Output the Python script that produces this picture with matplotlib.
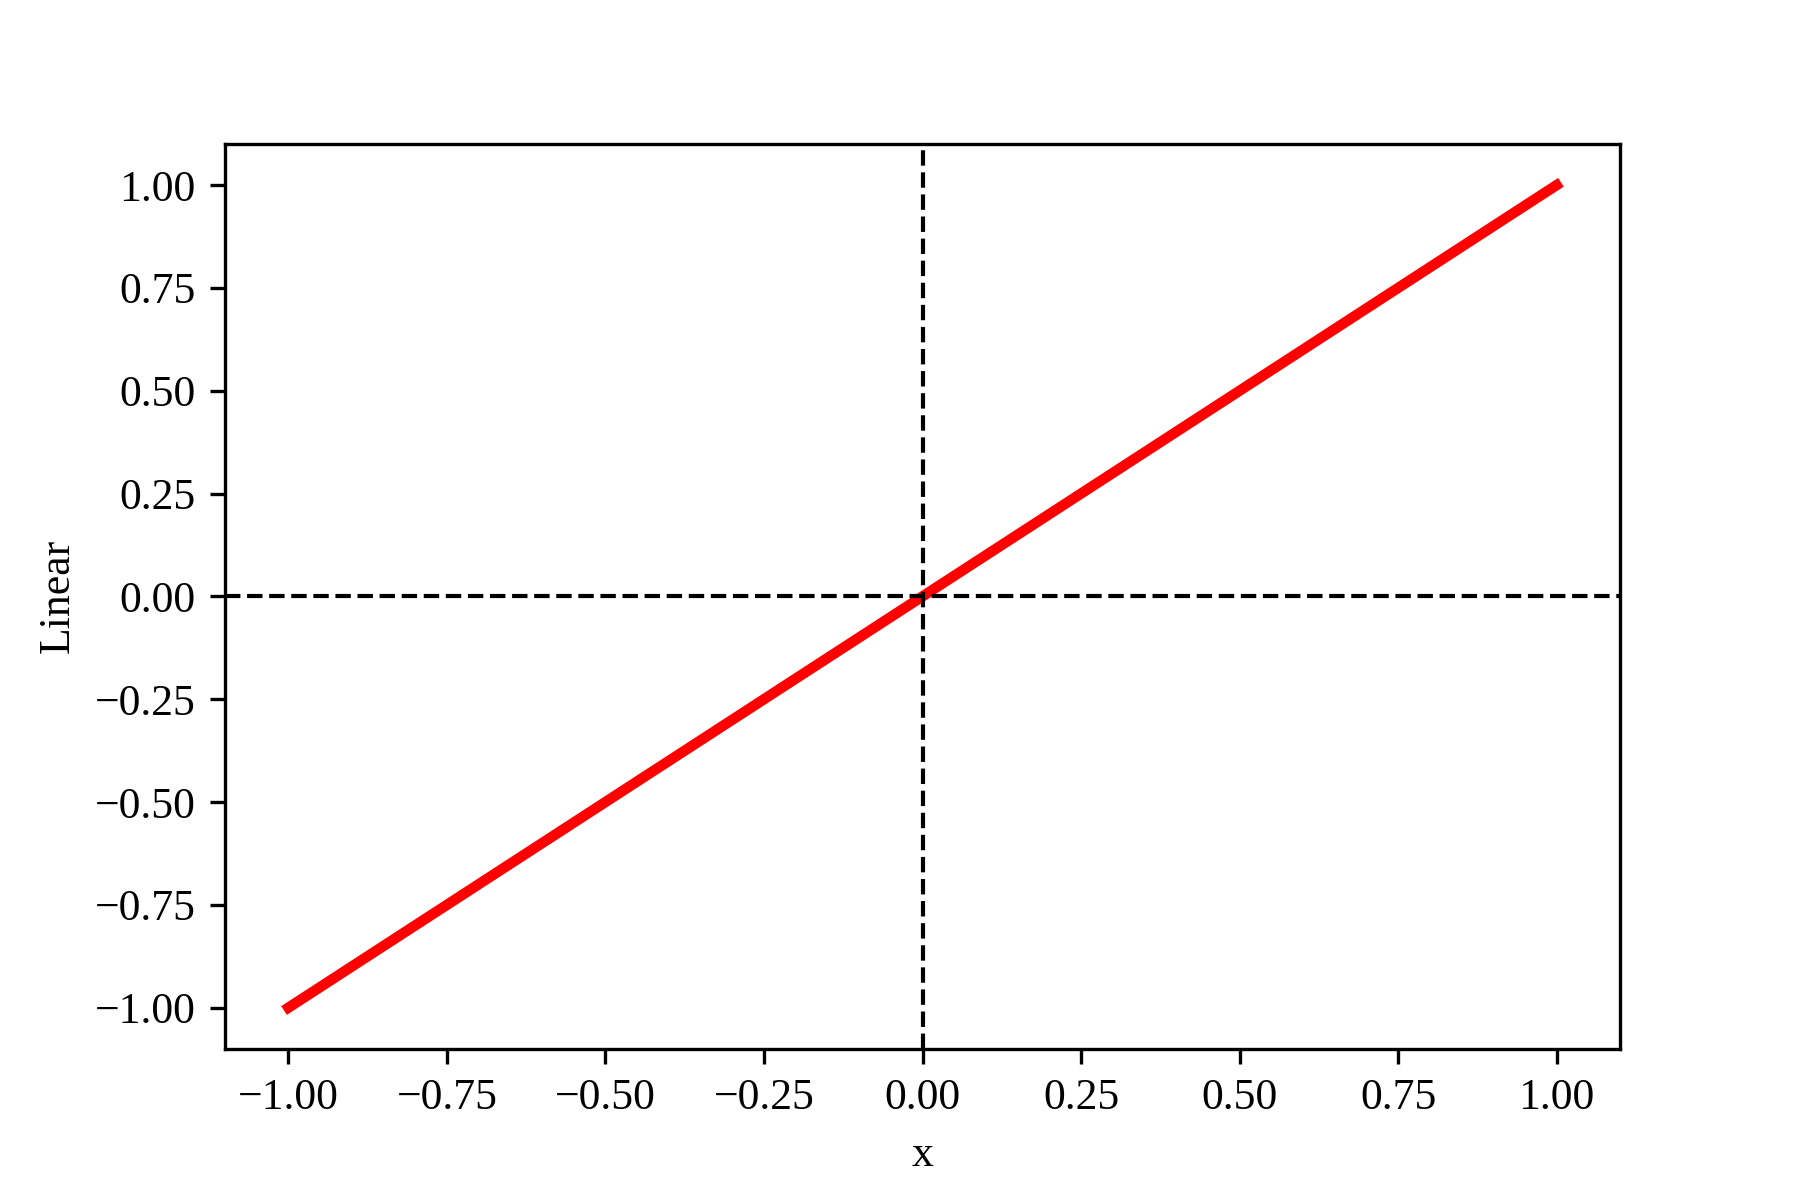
import matplotlib
matplotlib.use('Agg')
import matplotlib.pyplot as plt

plt.rcParams['font.family'] = ['Liberation Serif', 'DejaVu Serif']
plt.rcParams['font.size'] = 10.5

# linear activation sample points
x_vals = [-1.0, -0.5, 0.0, 0.5, 1.0]
y_vals = [-1.0, -0.5, 0.0, 0.5, 1.0]

fig = plt.figure(figsize=(6, 4), dpi=300)
plt.subplots_adjust(bottom=0.126)
ax = plt.gca()
plt.plot(x_vals, y_vals, color='red', linewidth=2.5)
plt.axhline(0, color='black', linestyle='--', linewidth=1)
plt.axvline(0, color='black', linestyle='--', linewidth=1)
ax.xaxis.set_major_locator(matplotlib.ticker.MultipleLocator(0.25))
ax.yaxis.set_major_locator(matplotlib.ticker.MultipleLocator(0.25))
plt.xlabel('x')
plt.ylabel('Linear')

plt.savefig('out.png', dpi=300)
plt.close()
